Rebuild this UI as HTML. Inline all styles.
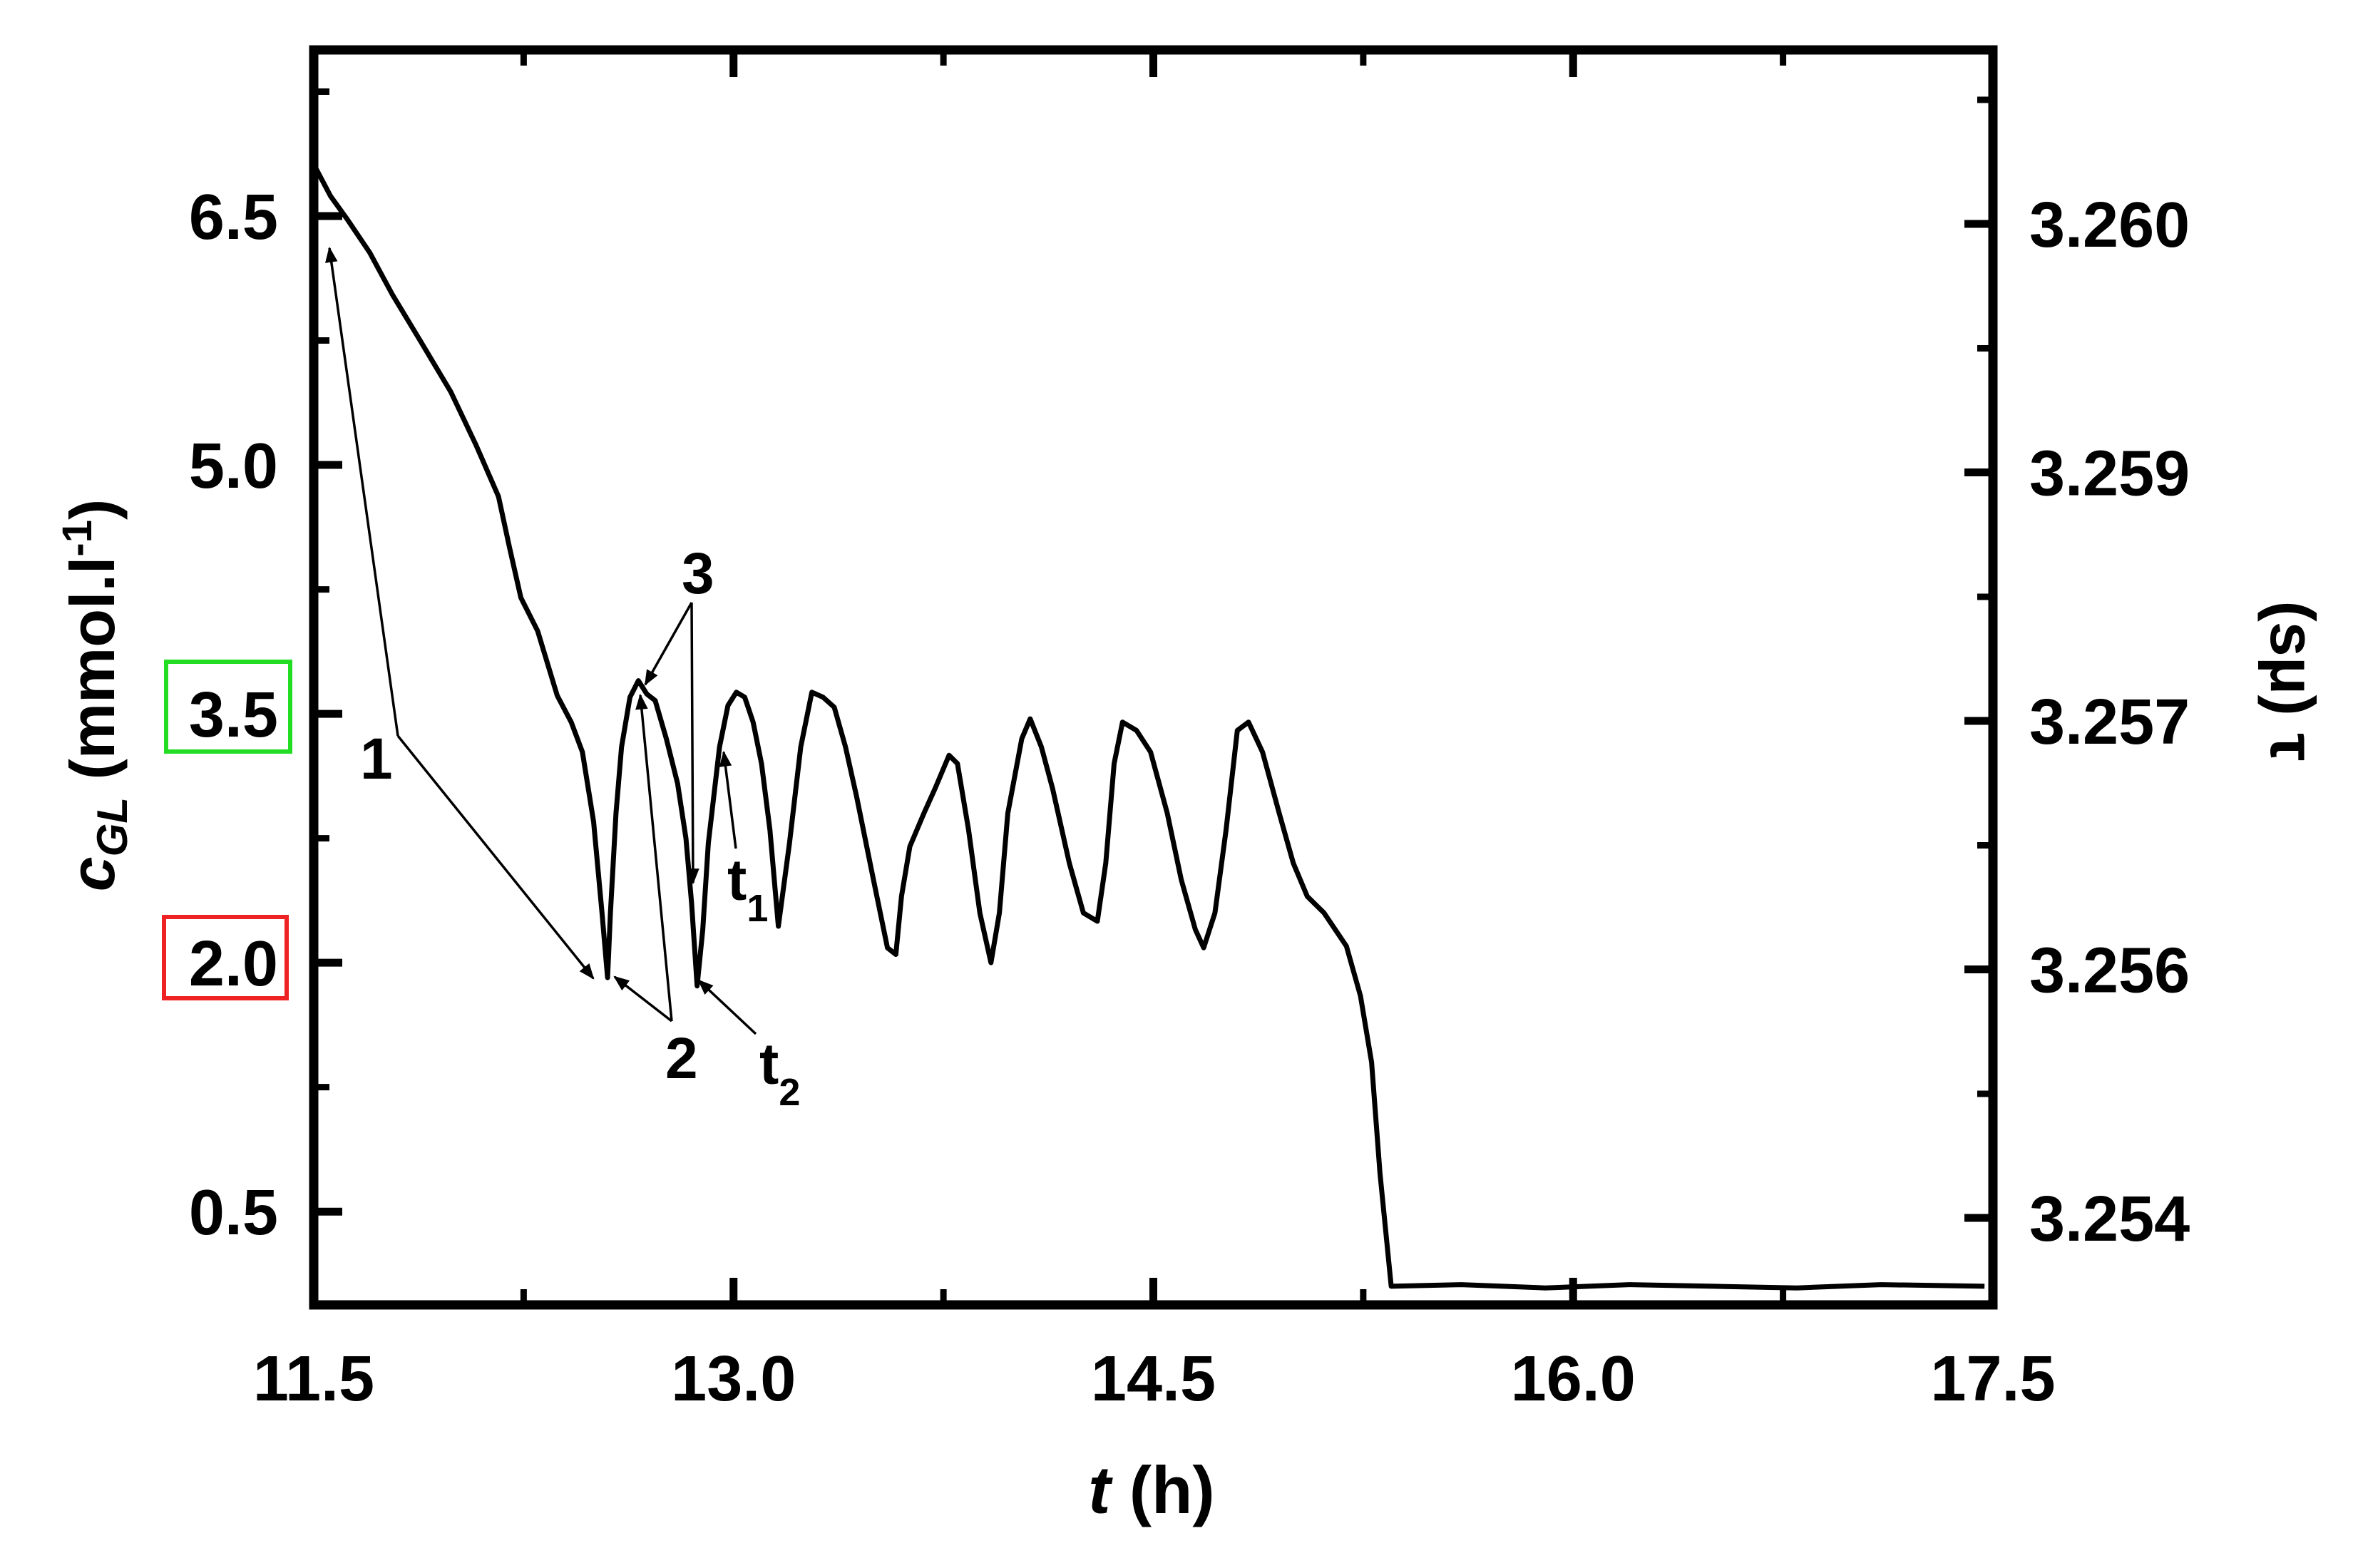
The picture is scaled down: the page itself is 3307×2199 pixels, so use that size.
<!DOCTYPE html>
<html><head><meta charset="utf-8"><style>
html,body{margin:0;padding:0;background:#fff}
svg{display:block}
text{font-family:"Liberation Sans",Arial,sans-serif;font-weight:bold;fill:#000}
</style></head><body>
<svg id="chart" width="3307" height="2199" viewBox="0 0 3307 2199" xmlns="http://www.w3.org/2000/svg">
<defs>
<marker id="ahb" viewBox="0 0 10 10" refX="9" refY="5" markerWidth="26" markerHeight="22" markerUnits="userSpaceOnUse" orient="auto"><path d="M0,1 L10,5 L0,9 z" fill="#000"/></marker></defs>
<g id="plot"></g>
</svg>
<script>
const tValues=[11.5,11.51,11.56,11.62,11.7,11.78,11.88,11.99,12.08,12.16,12.2,12.24,12.3,12.37,12.42,12.46,12.5,12.53,12.55,12.56,12.58,12.6,12.63,12.66,12.69,12.72,12.76,12.8,12.83,12.85,12.87,12.89,12.91,12.95,12.98,13.01,13.04,13.07,13.1,13.13,13.16,13.2,13.24,13.28,13.32,13.36,13.4,13.44,13.5,13.55,13.58,13.6,13.63,13.68,13.72,13.77,13.8,13.84,13.88,13.92,13.95,13.98,14.03,14.06,14.1,14.14,14.2,14.25,14.3,14.33,14.36,14.39,14.44,14.49,14.55,14.6,14.65,14.68,14.72,14.76,14.8,14.84,14.89,14.95,15.0,15.05,15.11,15.19,15.24,15.28,15.31,15.35,15.6,15.9,16.2,16.5,16.8,17.1,17.47];
const cValues=[6.8,6.78,6.62,6.48,6.28,6.03,5.75,5.44,5.12,4.81,4.5,4.2,4.0,3.61,3.45,3.27,2.85,2.3,1.91,2.3,2.9,3.3,3.6,3.7,3.62,3.58,3.35,3.08,2.75,2.36,1.86,2.2,2.72,3.3,3.55,3.63,3.6,3.45,3.2,2.8,2.22,2.72,3.3,3.63,3.6,3.54,3.3,3.0,2.5,2.09,2.05,2.4,2.7,2.9,3.05,3.25,3.2,2.8,2.3,2.0,2.3,2.9,3.35,3.47,3.3,3.05,2.6,2.3,2.25,2.6,3.2,3.45,3.4,3.27,2.9,2.5,2.2,2.09,2.3,2.8,3.4,3.45,3.27,2.9,2.6,2.4,2.3,2.1,1.8,1.4,0.73,0.05,0.06,0.04,0.06,0.05,0.04,0.06,0.05];
const xTickLabels=["11.5","13.0","14.5","16.0","17.5"];
const xTickVals=[11.5,13.0,14.5,16.0,17.5];
const yTickLabels=["6.5","5.0","3.5","2.0","0.5"];
const yTickVals=[6.5,5.0,3.5,2.0,0.5];
const y2TickLabels=["3.260","3.259","3.257","3.256","3.254"];
const y2TickVals=[0,1,2,3,4];

const X0=440,X1=2795,Y0=70,Y1=1830;
const xs=t=>X0+(t-11.5)*(X1-X0)/6;
const ys=v=>303+(6.5-v)*232.7;
const y2s=i=>314+i*348.5;
const NS="http://www.w3.org/2000/svg";
const g=document.getElementById('plot');
function mk(tag,attrs,parent){const e=document.createElementNS(NS,tag);for(const k in attrs)e.setAttribute(k,attrs[k]);(parent||g).appendChild(e);return e;}

const ticks=mk('g',{});


xTickVals.forEach((t,i)=>{
  const x=xs(t);
  mk('line',{x1:x,y1:Y1,x2:x,y2:Y1-38,stroke:'#000','stroke-width':11},ticks);
  mk('line',{x1:x,y1:Y0,x2:x,y2:Y0+38,stroke:'#000','stroke-width':11},ticks);
  if(i<xTickVals.length-1){const xm=xs(t+0.75);
    mk('line',{x1:xm,y1:Y1,x2:xm,y2:Y1-22,stroke:'#000','stroke-width':9},ticks);
    mk('line',{x1:xm,y1:Y0,x2:xm,y2:Y0+22,stroke:'#000','stroke-width':9},ticks);}
  const lb=mk('text',{x:x,y:1964,'font-size':90,'text-anchor':'middle'});
  
  
  lb.textContent=xTickLabels[i];
});
yTickVals.forEach((v,i)=>{
  const y=ys(v);
  mk('line',{x1:X0,y1:y,x2:X0+40,y2:y,stroke:'#000','stroke-width':11},ticks);
  const ym=ys(v+0.75);
  mk('line',{x1:X0,y1:ym,x2:X0+22,y2:ym,stroke:'#000','stroke-width':9},ticks);
  const lb=mk('text',{x:390,y:y+32,'font-size':90,'text-anchor':'end'});
  
  
  lb.textContent=yTickLabels[i];
});
y2TickVals.forEach((v,i)=>{
  const y=y2s(v);
  mk('line',{x1:X1,y1:y,x2:X1-40,y2:y,stroke:'#000','stroke-width':11},ticks);
  const ym=y-174;
  mk('line',{x1:X1,y1:ym,x2:X1-22,y2:ym,stroke:'#000','stroke-width':9},ticks);
  const lb=mk('text',{x:2846,y:y+32,'font-size':90});
  
  
  lb.textContent=y2TickLabels[i];
});

const fr=mk('rect',{x:X0,y:Y0,width:X1-X0,height:Y1-Y0,fill:'none',stroke:'#000','stroke-width':13});



let d='';
tValues.forEach((t,i)=>{d+=(i?'L':'M')+xs(t).toFixed(1)+','+ys(cValues[i]).toFixed(1);});
const ln=mk('path',{d:d,fill:'none',stroke:'#000','stroke-width':7,'stroke-linejoin':'round'});



const arrows=[[558,1032,462,348],[558,1032,832,1372],[942,1432,862,1370],[942,1432,898,975],[970,845,905,960],[970,845,972,1238],[1032,1190,1015,1055],[1060,1450,980,1375]];
const ag=mk('g',{});


arrows.forEach(a=>mk('line',{x1:a[0],y1:a[1],x2:a[2],y2:a[3],stroke:'#000','stroke-width':3.5,'marker-end':'url(#ahb)'},ag));
</script>
<svg style="position:absolute;left:0;top:0" width="3307" height="2199" viewBox="0 0 3307 2199" xmlns="http://www.w3.org/2000/svg">
<text x="505" y="1092" font-size="82">1</text>
<text x="933" y="1512" font-size="82">2</text>
<text x="956" y="832" font-size="82">3</text>
<text x="1020" y="1262" font-size="82">t<tspan font-size="54" dy="30">1</tspan></text>
<text x="1065" y="1520" font-size="82">t<tspan font-size="54" dy="30">2</tspan></text>
<rect x="233" y="928" width="174" height="126" fill="none" stroke="#22dd22" stroke-width="6"/>
<rect x="230" y="1286" width="172" height="114" fill="none" stroke="#ee2222" stroke-width="6"/>
<text x="1615" y="2122" font-size="94" text-anchor="middle"><tspan font-style="italic">t</tspan> (h)</text>
<text transform="translate(160,975) rotate(-90)" font-size="88" text-anchor="middle"><tspan font-style="italic">c</tspan><tspan font-style="italic" font-size="60" dy="18">GL</tspan><tspan dy="-18"> (mmol.l</tspan><tspan font-size="58" dy="-32">-1</tspan><tspan dy="32">)</tspan></text>
<text transform="translate(3185,955) rotate(90)" font-size="88" text-anchor="middle">(sμ) τ</text>
</svg>
</body></html>
